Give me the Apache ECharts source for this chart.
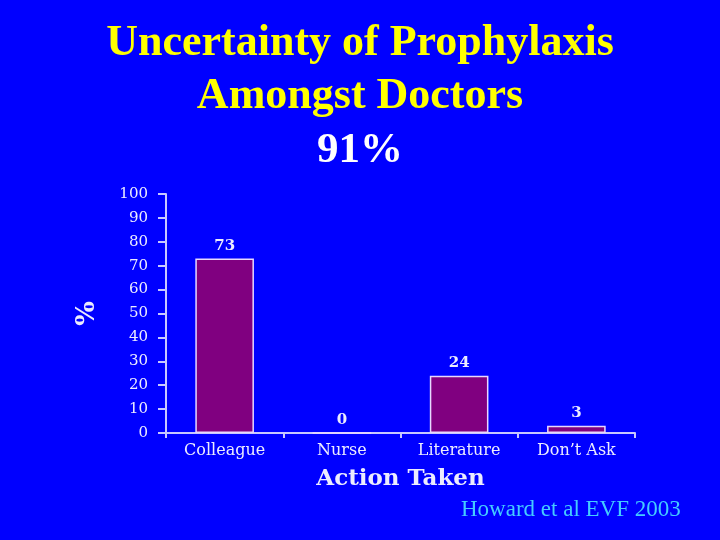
<!DOCTYPE html>
<html><head><meta charset="utf-8">
<script src="https://cdn.jsdelivr.net/npm/echarts@6/dist/echarts.min.js"></script>
<style>html,body{margin:0;padding:0;background:#0000ff;}#c{width:720px;height:540px;}</style>
</head><body><div id="c"></div>
<script>
const categories = ["Colleague", "Nurse", "Literature", "Don\u2019t Ask"];
const values = [73, 0, 24, 3];
const yTicks = [0, 10, 20, 30, 40, 50, 60, 70, 80, 90, 100];

const chart = echarts.init(document.getElementById('c'));
const lab = '#ececff';
chart.setOption({
  backgroundColor: '#0000ff',
  animation: false,
  title: [
    {text: 'Uncertainty of Prophylaxis', left: 'center', top: 17,
     textStyle: {color: '#ffff00', fontFamily: 'Liberation Serif', fontWeight: 'bold', fontSize: 44}},
    {text: 'Amongst Doctors', left: 'center', top: 70,
     textStyle: {color: '#ffff00', fontFamily: 'Liberation Serif', fontWeight: 'bold', fontSize: 44}},
    {text: '91%', left: 'center', top: 124,
     textStyle: {color: '#ffffff', fontFamily: 'Liberation Serif', fontWeight: 'bold', fontSize: 43}},
    {text: 'Howard et al EVF 2003', left: 456, top: 493,
     textStyle: {color: '#44ccff', fontFamily: 'Liberation Serif', fontWeight: 'normal', fontSize: 23}}
  ],
  grid: {left: 166, right: 85, top: 194, bottom: 107, containLabel: false},
  xAxis: {
    type: 'category', data: categories,
    name: 'Action Taken', nameLocation: 'middle', nameGap: 35,
    nameTextStyle: {color: lab, fontFamily: 'DejaVu Serif', fontWeight: 'bold', fontSize: 23},
    axisLine: {lineStyle: {color: '#c8c8ff', width: 2}},
    axisTick: {show: true, alignWithLabel: false, length: 5, lineStyle: {color: '#c8c8ff', width: 2}},
    axisLabel: {color: lab, fontFamily: 'DejaVu Serif', fontSize: 16, margin: 10}
  },
  yAxis: {
    type: 'value', min: 0, max: 100, interval: 10,
    name: '%', nameLocation: 'middle', nameGap: 66, nameRotate: 90,
    nameTextStyle: {color: lab, fontFamily: 'DejaVu Serif', fontWeight: 'bold', fontSize: 26},
    axisLine: {show: true, lineStyle: {color: '#c8c8ff', width: 2}},
    axisTick: {show: true, length: 8, lineStyle: {color: '#c8c8ff', width: 2}},
    splitLine: {show: false},
    axisLabel: {color: lab, fontFamily: 'DejaVu Serif', fontSize: 15, margin: 18,
      formatter: v => yTicks.includes(v) ? String(v) : ''}
  },
  series: [{
    type: 'bar', data: values, barWidth: '50%',
    itemStyle: {color: '#800080', borderColor: '#e8d8ff', borderWidth: 1.5},
    label: {show: true, position: 'top', distance: 5, color: lab,
      fontFamily: 'DejaVu Serif', fontWeight: 'bold', fontSize: 15}
  }]
});
</script></body></html>
